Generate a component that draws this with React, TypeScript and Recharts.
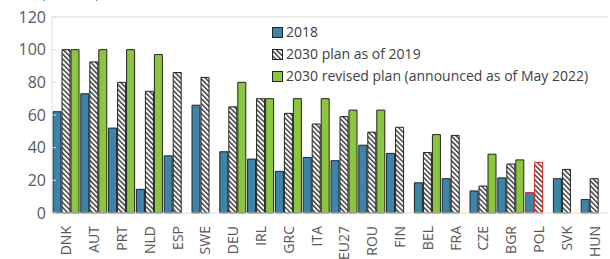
import React from 'react';
import { BarChart, Bar, XAxis, YAxis, ReferenceLine, Cell } from 'recharts';

const countries = ['DNK','AUT','PRT','NLD','ESP','SWE','DEU','IRL','GRC','ITA','EU27','ROU','FIN','BEL','FRA','CZE','BGR','POL','SVK','HUN'];
const v2018 = [62, 73, 52, 14.5, 35, 66, 37.5, 33, 25.5, 34, 32, 41.5, 36.5, 18.5, 21, 13.5, 21.5, 12.5, 21, 8.2];
const plan2019 = [100, 92.5, 80, 74.5, 86, 83, 65, 70, 61, 54.5, 59, 49.5, 52.5, 37, 47.5, 16.5, 30, 31, 26.7, 21];
const revised2022 = [100, 100, 100, 97, null, null, 80, 70, 70, 70, 63, 63, null, 48, null, 36, 32.5, null, null, null];
const yTicks = [0, 20, 40, 60, 80, 100, 120];

const seriesNames = ['2018', '2030 plan as of 2019', '2030 revised plan (announced as of May 2022)'];

const data = countries.map((c, i) => ({ c, a: v2018[i], b: plan2019[i], g: revised2022[i] }));

const BLUE = '#3d85a8';
const GREEN = '#8cc63f';
const FONT = '"Open Sans", "Noto Sans", sans-serif';

const RotTick = (props: any) => {
  const { x, y, payload } = props;
  return (
    <text x={x} y={y + 5} transform={`rotate(-90 ${x} ${y + 5})`} textAnchor="end" dominantBaseline="central"
      fill="#595959" fontSize={14} fontFamily={FONT}>{payload.value}</text>
  );
};

const LegendBox = () => (
  <div style={{ position: 'absolute', left: 272, top: 21, fontFamily: FONT, fontSize: 14, color: '#404040', lineHeight: '22px' }}>
    {seriesNames.map((n, i) => (
      <div key={n} style={{ display: 'flex', alignItems: 'center', whiteSpace: 'nowrap' }}>
        <svg width={11} height={11} style={{ marginRight: 3 }}>
          <defs>
            <pattern id={`lh${i}`} patternUnits="userSpaceOnUse" width={3.5} height={3.5} patternTransform="rotate(45)">
              <rect width={3.5} height={3.5} fill="#fff" />
              <line x1={0} y1={1} x2={3.5} y2={1} stroke="#222" strokeWidth={1.3} />
            </pattern>
          </defs>
          <rect x={0.5} y={0.5} width={10} height={10}
            fill={i === 0 ? BLUE : i === 1 ? `url(#lh${i})` : GREEN} stroke="#222" strokeWidth={1} />
        </svg>
        <span>{n}</span>
      </div>
    ))}
  </div>
);

export default function App() {
  return (
    <div style={{ position: 'absolute', left: 0, top: 0, width: 610, height: 259, overflow: 'hidden', background: '#fff' }}>
      <BarChart width={610} height={259} data={data} margin={{ top: 17, right: 2, bottom: 0, left: 0 }}
        barSize={8} barGap={1}>
        <defs>
          <pattern id="hatch" patternUnits="userSpaceOnUse" width={3.5} height={3.5} patternTransform="rotate(45)">
            <rect width={3.5} height={3.5} fill="#fff" />
            <line x1={0} y1={1} x2={3.5} y2={1} stroke="#222" strokeWidth={1.3} />
          </pattern>
        </defs>
        <YAxis domain={[0, 120]} ticks={yTicks} width={52} tickSize={-4} tickLine={{ stroke: '#d9d9d9' }}
          axisLine={{ stroke: '#e0e0e0' }} tickMargin={10}
          tick={{ fill: '#595959', fontSize: 16, fontFamily: FONT }} />
        <XAxis dataKey="c" interval={0} height={46} tickLine={false} axisLine={{ stroke: '#d9d9d9' }} tick={<RotTick />} />
        <ReferenceLine y={120} stroke="#e0e0e0" ifOverflow="visible" />
        <Bar dataKey="a" name={seriesNames[0]} fill={BLUE} stroke="#222" strokeWidth={1} isAnimationActive={false}>
          {data.map((d) => <Cell key={d.c} stroke={d.c === 'POL' ? '#e02020' : '#222'} />)}
        </Bar>
        <Bar dataKey="b" name={seriesNames[1]} fill="url(#hatch)" stroke="#222" strokeWidth={1} isAnimationActive={false}>
          {data.map((d) => <Cell key={d.c} stroke={d.c === 'POL' ? '#e02020' : '#222'} />)}
        </Bar>
        <Bar dataKey="g" name={seriesNames[2]} fill={GREEN} stroke="#222" strokeWidth={1} isAnimationActive={false} />
      </BarChart>
      <LegendBox />
      <div style={{ position: 'absolute', left: 41, top: -15, fontFamily: FONT, fontSize: 14, lineHeight: '16px', color: '#2e75b6' }}>(Percent)</div>
    </div>
  );
}
